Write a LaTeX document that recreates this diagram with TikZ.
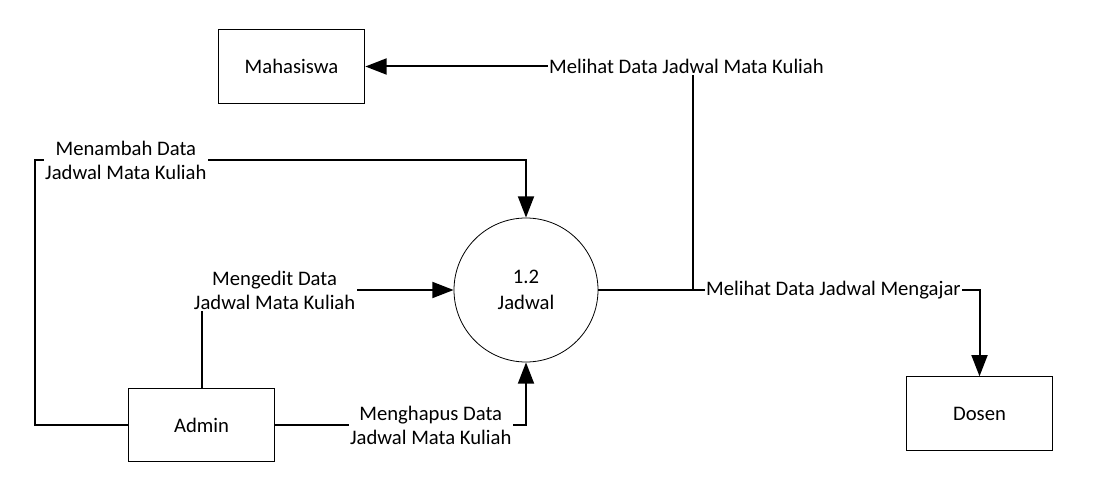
\documentclass[tikz,border=0pt]{standalone}
\usepackage{fontspec}
\setmainfont{Carlito}
\usetikzlibrary{arrows.meta}

\begin{document}
\begin{tikzpicture}[x=0.75pt,y=-0.75pt,>={Triangle[length=16pt,width=12pt]},
		entitas/.style={draw,line width=0.75pt,minimum width=110pt,minimum height=55pt,font=\fontsize{15.5}{19}\selectfont},
		proses/.style={draw,circle,line width=0.6pt,minimum size=108pt,align=center,font=\fontsize{15.5}{19}\selectfont},
		alir/.style={line width=1.5pt},
		lbl/.style={fill=white,inner sep=1pt,align=center,font=\fontsize{15.5}{18}\selectfont}]
		\useasboundingbox (0,0) rectangle (1109,488);
		\node[entitas] (Mahasiswa) at (291.5,66.5) {Mahasiswa};
		\node[entitas] (Admin) at (201.5,425) {Admin};
		\node[entitas] (Dosen) at (979.5,413.5) {Dosen};
		\node[proses] (Jadwal) at (526,290) {1.2\\Jadwal};
		\coordinate (cabang) at (693,290);
		\coordinate (kiriAtas) at (35,160);
		\draw[alir] (Jadwal.east) -- (cabang);
		\draw[alir,->] (cabang) |- node[lbl,pos=0.51] {Melihat Data Jadwal Mata Kuliah} (Mahasiswa.east);
		\draw[alir,->] (cabang) -| node[lbl,pos=0.245] {Melihat Data Jadwal Mengajar} (Dosen.north);
		\draw[alir,->] (Admin.west) -| (kiriAtas) -- node[lbl,pos=0.185] {Menambah Data\\Jadwal Mata Kuliah} (kiriAtas -| Jadwal.north) -- (Jadwal.north);
		\draw[alir,->] (Admin.north) |- node[lbl,pos=0.645] {Mengedit Data\\Jadwal Mata Kuliah} (Jadwal.west);
		\draw[alir,->] (Admin.east) -| node[lbl,pos=0.31] {Menghapus Data\\Jadwal Mata Kuliah} (Jadwal.south);
	\end{tikzpicture}
\end{document}
